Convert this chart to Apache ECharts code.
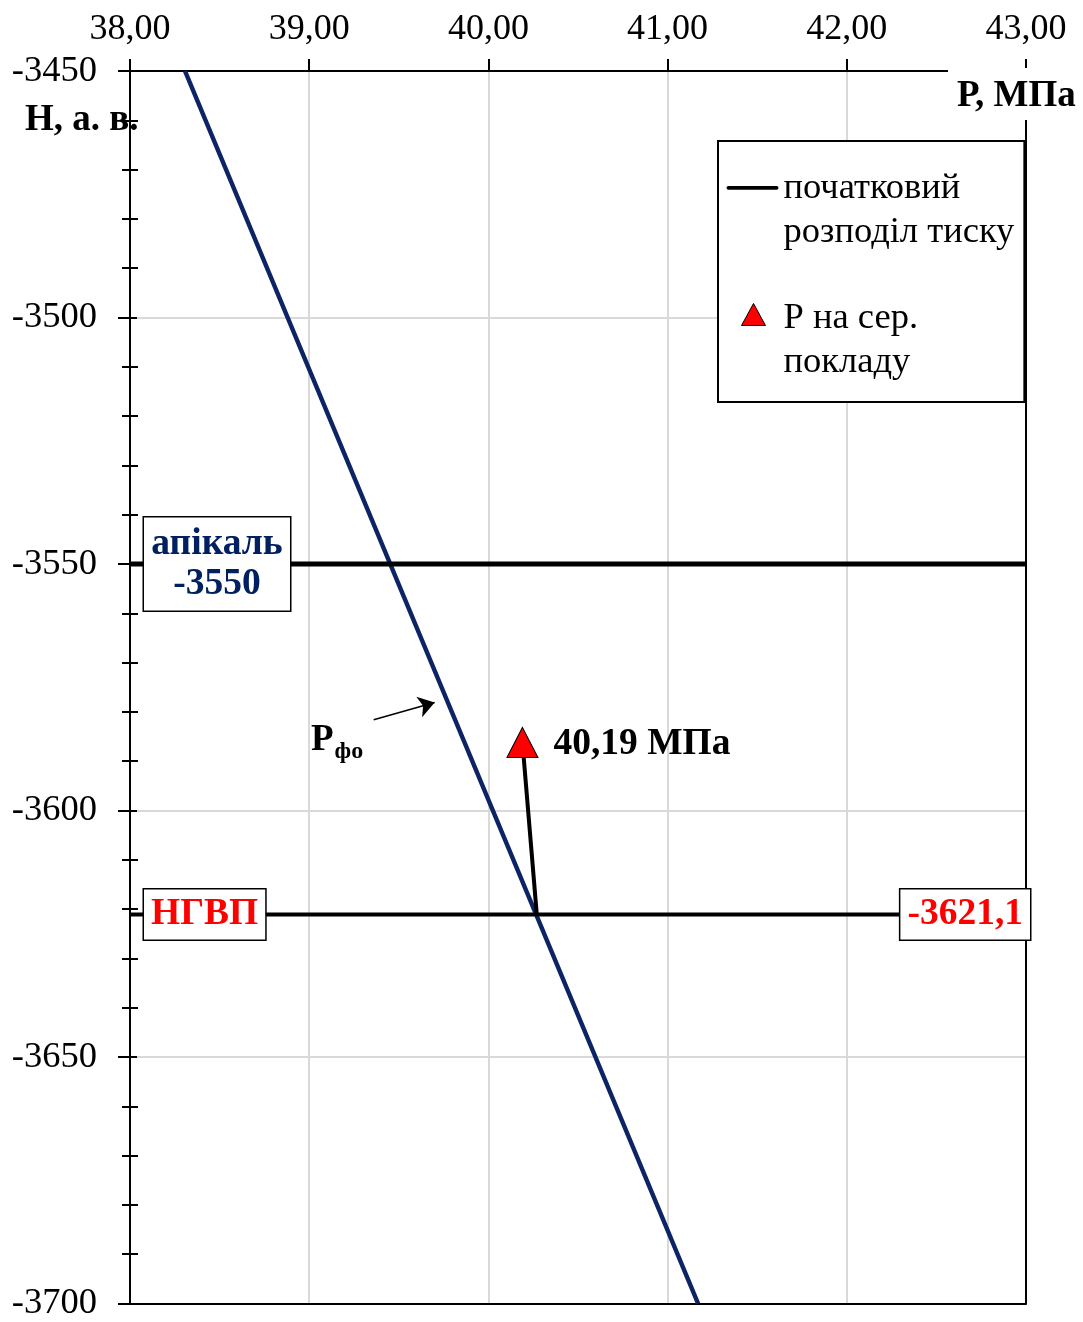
<!DOCTYPE html>
<html><head><meta charset="utf-8">
<script src="https://cdn.jsdelivr.net/npm/echarts@6/dist/echarts.min.js"></script>
<style>html,body{margin:0;padding:0;background:#fff}#c{width:1083px;height:1322px}</style>
</head><body><div id="c"></div>
<script>
// axis ranges
const xMin = 38, xMax = 43, xStep = 1;
const yMin = -3700, yMax = -3450, yStep = 50;
// initial pressure distribution (line endpoints)
const initialP = [38.307, 41.17];
const initialH = [-3450, -3700];
// levels
const apicalDepth = -3550;
const gwcDepth = -3621.1;
const gwcP = 40.27;
// average reservoir pressure point
const avgP = 40.19;
const avgH = -3586.2;
// annotation arrow for P_fo
const arrowP = [39.36, 39.70];
const arrowH = [-3581.6, -3578.1];
const seriesNames = ['початковий\nрозподіл тиску', 'Р на сер.\nпокладу'];

const FONT = "'Liberation Serif','Times New Roman',serif";
const NAVY = '#0c2464';
const BOLD = 37.5;

const chart = echarts.init(document.getElementById('c'), null, {renderer: 'canvas'});

const commonX = {type: 'value', min: xMin, max: xMax, interval: xStep};
const commonY = {type: 'value', min: yMin, max: yMax, interval: yStep};

const boxLabel = (color) => ({
  show: true,
  fontFamily: FONT, fontSize: BOLD, fontWeight: 'bold', color: color,
  backgroundColor: '#fff', borderColor: '#000', borderWidth: 1.5,
  lineHeight: 40
});

const option = {
  animation: false,
  backgroundColor: '#fff',
  textStyle: {fontFamily: FONT},
  grid: {left: 130, right: 57, top: 71, bottom: 15, containLabel: false},
  xAxis: [
    Object.assign({}, commonX, {
      position: 'top',
      axisLine: {show: true, onZero: false, lineStyle: {color: '#000', width: 2}},
      axisTick: {show: true, length: 12, lineStyle: {color: '#000', width: 2}},
      axisLabel: {show: true, margin: 23, fontFamily: FONT, fontSize: 36, color: '#000',
        formatter: v => v.toFixed(2).replace('.', ',')},
      splitLine: {show: true, lineStyle: {color: '#d9d9d9', width: 2}}
    }),
    Object.assign({}, commonX, {
      position: 'bottom',
      axisLine: {show: true, onZero: false, lineStyle: {color: '#000', width: 2}},
      axisTick: {show: false}, axisLabel: {show: false}, splitLine: {show: false}
    })
  ],
  yAxis: [
    Object.assign({}, commonY, {
      position: 'left',
      axisLine: {show: true, onZero: false, lineStyle: {color: '#000', width: 2}},
      axisTick: {show: true, length: 12, lineStyle: {color: '#000', width: 2}},
      minorTick: {show: true, splitNumber: 5, length: 8, lineStyle: {color: '#000', width: 2}},
      axisLabel: {show: true, margin: 33, fontFamily: FONT, fontSize: 36.5, color: '#000',
        formatter: v => String(v)},
      splitLine: {show: true, lineStyle: {color: '#d9d9d9', width: 2}}
    }),
    Object.assign({}, commonY, {
      position: 'left', offset: 0,
      axisLine: {show: false},
      axisTick: {show: true, inside: true, length: 7, lineStyle: {color: '#000', width: 2}},
      minorTick: {show: true, splitNumber: 5, length: 8, lineStyle: {color: '#000', width: 2}},
      axisLabel: {show: false}, splitLine: {show: false}
    }),
    Object.assign({}, commonY, {
      position: 'right',
      axisLine: {show: true, onZero: false, lineStyle: {color: '#000', width: 2}},
      axisTick: {show: false}, axisLabel: {show: false}, splitLine: {show: false}
    })
  ],
  legend: {
    show: true,
    left: 718, top: 141,
    orient: 'vertical',
    padding: [25, 10, 17, 8],
    itemGap: 42,
    itemWidth: 52, itemHeight: 88,
    borderColor: '#000', borderWidth: 2, backgroundColor: '#fff',
    textStyle: {fontFamily: FONT, fontSize: 36.5, color: '#000', lineHeight: 44},
    data: [
      {name: seriesNames[0],
       icon: 'path://M0,0 L0,0 M1,19 L51,19 A2,2 0 0 1 51,23 L1,23 A2,2 0 0 1 1,19 Z M52,88 L52,88',
       itemStyle: {color: '#000', borderWidth: 0}},
      {name: seriesNames[1],
       icon: 'path://M0,0 L0,0 M27,7 L39,29 L15,29 Z M52,88 L52,88',
       itemStyle: {color: '#ff0000', borderColor: '#000', borderWidth: 1, opacity: 1}}
    ],
    selectedMode: false
  },
  graphic: [
    {type: 'text', left: 948, top: 68, z: 100,
     style: {text: 'Р, МПа', font: "bold 37px 'Liberation Serif'", fill: '#000',
       backgroundColor: '#fff', padding: [8, 8, 4, 9], lineHeight: 40}},
    {type: 'text', left: 25, top: 100, z: 100,
     style: {text: 'Н, а. в.', font: "bold 37px 'Liberation Serif'", fill: '#000', lineHeight: 40}},
    {type: 'text', left: 311, top: 722, z: 100,
     style: {text: '{p|Р}{s|фо}',
       rich: {
         p: {fontFamily: FONT, fontSize: 37, fontWeight: 'bold', fill: '#000', lineHeight: 40},
         s: {fontFamily: FONT, fontSize: 24, fontWeight: 'bold', fill: '#000', padding: [22, 0, 0, 1]}
       }}}
  ],
  series: [
    {
      name: seriesNames[0], type: 'line', xAxisIndex: 0, yAxisIndex: 0,
      data: initialP.map((p, i) => [p, initialH[i]]),
      symbol: 'none', z: 2,
      lineStyle: {color: NAVY, width: 4.5},
      itemStyle: {color: NAVY},
      markLine: {
        silent: true, symbol: ['none', 'arrow'], symbolSize: 16,
        label: {show: false},
        lineStyle: {color: '#000', width: 1.5, type: 'solid'},
        itemStyle: {color: '#000'},
        data: [[{coord: [arrowP[0], arrowH[0]]}, {coord: [arrowP[1], arrowH[1]]}]]
      }
    },
    {
      name: 'apical', type: 'line', xAxisIndex: 0, yAxisIndex: 0,
      data: [[xMin, apicalDepth], [xMax, apicalDepth]],
      symbol: 'none', z: 3, silent: true,
      lineStyle: {color: '#000', width: 5}
    },
    {
      name: 'gwc', type: 'line', xAxisIndex: 0, yAxisIndex: 0,
      data: [[xMin, gwcDepth], [xMax, gwcDepth]],
      symbol: 'none', z: 3, silent: true,
      lineStyle: {color: '#000', width: 4}
    },
    {
      name: 'connector', type: 'line', xAxisIndex: 0, yAxisIndex: 0,
      data: [[avgP, avgH], [gwcP, gwcDepth]],
      symbol: 'none', z: 4, silent: true,
      lineStyle: {color: '#000', width: 4}
    },
    {
      name: seriesNames[1], type: 'scatter', xAxisIndex: 0, yAxisIndex: 0,
      data: [[avgP, avgH]],
      symbol: 'triangle', symbolSize: [31, 30], z: 6,
      itemStyle: {color: '#ff0000', borderColor: '#000', borderWidth: 1, opacity: 1},
      label: {show: true, position: 'right', distance: 15, offset: [0, 2], fontFamily: FONT, fontSize: BOLD,
        fontWeight: 'bold', color: '#000',
        formatter: p => p.value[0].toFixed(2).replace('.', ',') + ' МПа'}
    },
    {
      name: 'boxes', type: 'scatter', xAxisIndex: 0, yAxisIndex: 0,
      symbol: 'circle', symbolSize: 0, z: 8, silent: true,
      itemStyle: {opacity: 1},
      data: [
        {value: [xMin, apicalDepth],
         label: Object.assign(boxLabel('#002060'), {position: 'right', distance: 14, padding: [7, 7, 6, 7],
           formatter: '{a|апікаль}\n{a|' + String(apicalDepth) + '}',
           rich: {a: {width: 132, align: 'center', fontFamily: FONT, fontSize: BOLD, fontWeight: 'bold', color: '#002060', lineHeight: 40}}})},
        {value: [xMin, gwcDepth],
         label: Object.assign(boxLabel('#ff0000'), {position: 'right', distance: 14, padding: [5, 7, 5, 7],
           formatter: 'НГВП'})},
        {value: [xMax, gwcDepth],
         label: Object.assign(boxLabel('#ff0000'), {position: 'left', distance: 0, offset: [4, 0], padding: [5, 7, 5, 7],
           formatter: String(gwcDepth).replace('.', ',')})}
      ]
    }
  ]
};
chart.setOption(option);
</script>
</body></html>
